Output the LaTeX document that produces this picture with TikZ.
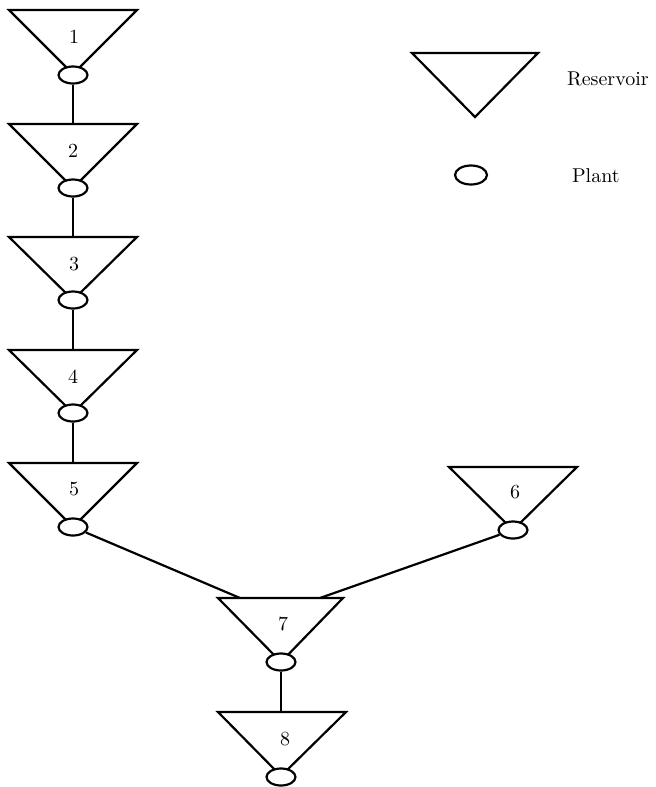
\documentclass[tikz,border=0pt]{standalone}
\usepackage{tikz}
\usetikzlibrary{shapes.geometric, positioning}

\begin{document}
\begin{tikzpicture}[x=0.5pt, y=-0.5pt, line width=1.1pt, line join=miter,
    plant/.style={draw, ellipse, fill=white, minimum width=14.5pt, minimum height=8.5pt, inner sep=0pt},
    resnum/.style={inner sep=1pt, font=\normalsize},
    reservoir/.style={draw, fill=white}]
  \useasboundingbox (0,0) rectangle (655,787);

  % reservoirs 1-5 down the left
  \draw[reservoir] (9,10) -- (137,10) -- (73,74) -- cycle;
  \coordinate (t1) at (73,10);
  \node[resnum] (r1) at (74,37) {1};
  \node[plant] (p1) at (73,75) {};

  \draw[reservoir] (9,124) -- (137,124) -- (73,188) -- cycle;
  \coordinate (t2) at (73,124);
  \node[resnum] (r2) at (73,151) {2};
  \node[plant] (p2) at (73,188) {};

  \draw[reservoir] (9,237) -- (137,237) -- (73,300) -- cycle;
  \coordinate (t3) at (73,237);
  \node[resnum] (r3) at (74,264) {3};
  \node[plant] (p3) at (73,300) {};

  \draw[reservoir] (9,350) -- (137,350) -- (73,413) -- cycle;
  \coordinate (t4) at (73,350);
  \node[resnum] (r4) at (73,377) {4};
  \node[plant] (p4) at (73,413) {};

  \draw[reservoir] (9,463) -- (137,463) -- (73,527) -- cycle;
  \coordinate (t5) at (73,463);
  \node[resnum] (r5) at (74,489) {5};
  \node[plant] (p5) at (73,527) {};

  % reservoir 6 on the right
  \draw[reservoir] (449,467) -- (577,467) -- (513,530) -- cycle;
  \node[resnum] (r6) at (515,492) {6};
  \node[plant] (p6) at (513,530) {};

  % reservoirs 7 and 8 below
  \draw[reservoir] (218,598) -- (343,598) -- (281,662) -- cycle;
  \coordinate (t7a) at (240,598);
  \coordinate (t7b) at (320,598);
  \node[resnum] (r7) at (283,624) {7};
  \node[plant] (p7) at (281,662) {};

  \draw[reservoir] (218,712) -- (346,712) -- (281,776) -- cycle;
  \coordinate (t8) at (281,712);
  \node[resnum] (r8) at (285,739) {8};
  \node[plant] (p8) at (281,777) {};

  % links
  \draw (p1) -- (t2);
  \draw (p2) -- (t3);
  \draw (p3) -- (t4);
  \draw (p4) -- (t5);
  \draw (p5) -- (t7a);
  \draw (p6) -- (t7b);
  \draw (p7) -- (t8);

  % legend
  \draw[reservoir] (412,53) -- (538,53) -- (475,117) -- cycle;
  \node[anchor=west, inner sep=0pt] (lres) at (566,79) {Reservoir};
  \node[plant, minimum width=16pt, minimum height=9.5pt] (lplant) at (471,175) {};
  \node[anchor=west, inner sep=0pt] (lpl) at (571,176) {Plant};
\end{tikzpicture}
\end{document}
